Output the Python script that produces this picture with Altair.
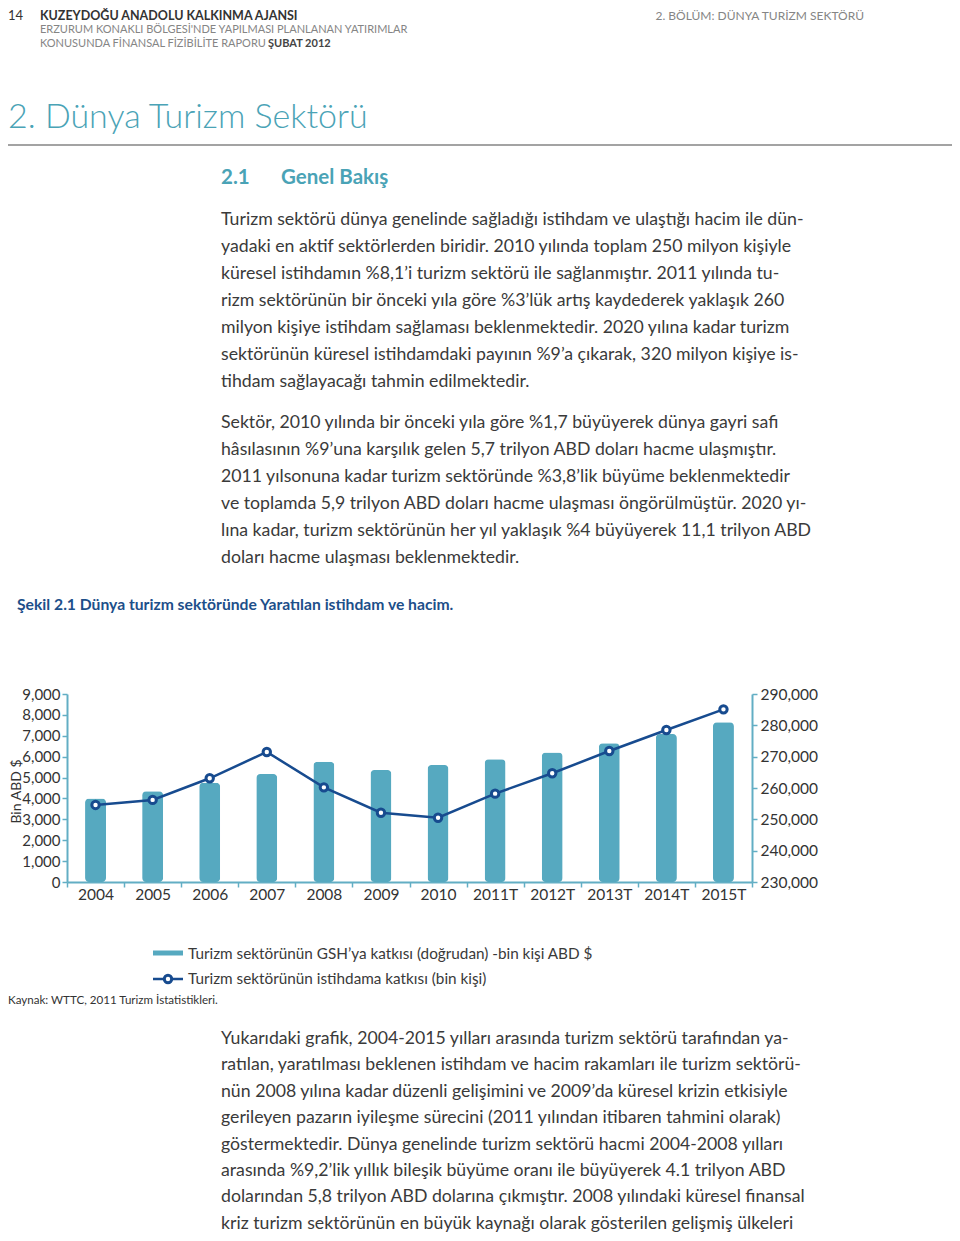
import altair as alt
import pandas as pd

# ---------------- data ----------------
years = ["2004", "2005", "2006", "2007", "2008", "2009", "2010",
         "2011T", "2012T", "2013T", "2014T", "2015T"]
gdp_values = [4000, 4350, 4750, 5170, 5760, 5360, 5600, 5880, 6200, 6640, 7080, 7650]
emp_values = [254600, 256200, 263100, 271500, 260200, 252100, 250500,
              258200, 264700, 271800, 278500, 285100]
left_ticks = [0, 1000, 2000, 3000, 4000, 5000, 6000, 7000, 8000, 9000]
right_ticks = [230000, 240000, 250000, 260000, 270000, 280000, 290000]

header_bold = "KUZEYDOĞU ANADOLU KALKINMA AJANSI"
header_line2 = "ERZURUM KONAKLI BÖLGESİ'NDE YAPILMASI PLANLANAN YATIRIMLAR"
header_line3 = "KONUSUNDA FİNANSAL FİZİBİLİTE RAPORU"
header_date = "ŞUBAT 2012"
header_right = "2. BÖLÜM: DÜNYA TURİZM SEKTÖRÜ"
page_no = "14"
chapter_title = "2. Dünya Turizm Sektörü"
section_no = "2.1"
section_title = "Genel Bakış"
para1 = [
    "Turizm sektörü dünya genelinde sağladığı istihdam ve ulaştığı hacim ile dün-",
    "yadaki en aktif sektörlerden biridir. 2010 yılında toplam 250 milyon kişiyle",
    "küresel istihdamın %8,1’i turizm sektörü ile sağlanmıştır. 2011 yılında tu-",
    "rizm sektörünün bir önceki yıla göre %3’lük artış kaydederek yaklaşık 260",
    "milyon kişiye istihdam sağlaması beklenmektedir. 2020 yılına kadar turizm",
    "sektörünün küresel istihdamdaki payının %9’a çıkarak, 320 milyon kişiye is-",
    "tihdam sağlayacağı tahmin edilmektedir.",
]
para2 = [
    "Sektör, 2010 yılında bir önceki yıla göre %1,7 büyüyerek dünya gayri safi",
    "hâsılasının %9’una karşılık gelen 5,7 trilyon ABD doları hacme ulaşmıştır.",
    "2011 yılsonuna kadar turizm sektöründe %3,8’lik büyüme beklenmektedir",
    "ve toplamda 5,9 trilyon ABD doları hacme ulaşması öngörülmüştür. 2020 yı-",
    "lına kadar, turizm sektörünün her yıl yaklaşık %4 büyüyerek 11,1 trilyon ABD",
    "doları hacme ulaşması beklenmektedir.",
]
figure_caption = "Şekil 2.1 Dünya turizm sektöründe Yaratılan istihdam ve hacim."
legend_bar = "Turizm sektörünün GSH’ya katkısı (doğrudan) -bin kişi ABD $"
legend_line = "Turizm sektörünün istihdama katkısı (bin kişi)"
source_note = "Kaynak: WTTC, 2011 Turizm İstatistikleri."
para3 = [
    "Yukarıdaki grafik, 2004-2015 yılları arasında turizm sektörü tarafından ya-",
    "ratılan, yaratılması beklenen istihdam ve hacim rakamları ile turizm sektörü-",
    "nün 2008 yılına kadar düzenli gelişimini ve 2009’da küresel krizin etkisiyle",
    "gerileyen pazarın iyileşme sürecini (2011 yılından itibaren tahmini olarak)",
    "göstermektedir. Dünya genelinde turizm sektörü hacmi 2004-2008 yılları",
    "arasında %9,2’lik yıllık bileşik büyüme oranı ile büyüyerek 4.1 trilyon ABD",
    "dolarından 5,8 trilyon ABD dolarına çıkmıştır. 2008 yılındaki küresel finansal",
    "kriz turizm sektörünün en büyük kaynağı olarak gösterilen gelişmiş ülkeleri",
]

# ---------------- styling ----------------
FONT = "Lato"
TEXT = "#3a3a3a"
GREY = "#858585"
TEAL = "#4aa3b6"
BAR = "#56a9c0"
AXC = "#62aec4"
BLUE = "#174b8f"
NAVY = "#1d4f8a"
BODY = 17.7

W, H = 936, 1217          # plot area; padding left/top 8 -> origin at page (16,16)


def X(v):
    return v - 16


def Y(v):
    return v - 16


one = alt.Data(values=[{"k": 1}])


def txt(s, x, y, size, color, weight="normal", align="left", lh=None):
    kw = dict(align=align, baseline="alphabetic", fontSize=size, color=color,
              fontWeight=weight, font=FONT)
    if isinstance(s, list):
        kw.update(lineBreak="\n", lineHeight=lh)
        s = "\n".join(s)
    return alt.Chart(one).mark_text(**kw).encode(
        x=alt.value(X(x)), y=alt.value(Y(y)), text=alt.value(s))


def rule(x1, x2, y, color, width):
    return alt.Chart(one).mark_rule(color=color, strokeWidth=width).encode(
        x=alt.value(X(x1)), x2=alt.value(X(x2)), y=alt.value(Y(y)))


df = pd.DataFrame({"year": years, "gdp": gdp_values, "emp": emp_values})

xscale = alt.Scale(domain=years, range=[X(67), X(752)], paddingInner=0, paddingOuter=0)
xaxis = alt.Axis(orient="bottom", offset=-(H - Y(882)), title=None, labelAngle=0,
                 labelFont=FONT, labelFontSize=15.5, labelColor="#333333",
                 labelPadding=0, tickBand="extent", tickSize=5, tickColor=AXC,
                 tickWidth=1.5, domainColor=AXC, domainWidth=2, grid=False)

bars = alt.Chart(df).mark_bar(size=21, color=BAR, cornerRadius=4).encode(
    x=alt.X("year:N", sort=years, scale=xscale, axis=xaxis),
    y=alt.Y("gdp:Q",
            scale=alt.Scale(domain=[0, 9000], range=[Y(882), Y(694)], nice=False),
            axis=alt.Axis(orient="left", offset=-X(67), values=left_ticks, format=",d",
                          title="Bin ABD $", titleFont=FONT, titleFontSize=14,
                          titleFontWeight="normal", titleColor="#333333",
                          titleAngle=270, titleX=16 - 67, titleY=Y(791),
                          titleAlign="center", titleBaseline="middle",
                          labelFont=FONT, labelFontSize=15, labelColor="#333333",
                          labelPadding=2, tickSize=5, tickColor=AXC, tickWidth=1.5,
                          domainColor=AXC, domainWidth=2, grid=False)),
)

line = alt.Chart(df).mark_line(
    color=BLUE, strokeWidth=2.5,
    point=alt.OverlayMarkDef(filled=True, fill="white", stroke=BLUE,
                             strokeWidth=3, size=55)).encode(
    x=alt.X("year:N", sort=years, scale=xscale, axis=xaxis),
    y=alt.Y("emp:Q",
            scale=alt.Scale(domain=[230000, 290000], range=[Y(882), Y(694)], nice=False,
                            zero=False),
            axis=alt.Axis(orient="right", offset=-(952 - 752), values=right_ticks,
                          format=",d", title=None, labelFont=FONT, labelFontSize=15.5,
                          labelColor="#333333", labelPadding=3, tickSize=5,
                          tickColor=AXC, tickWidth=1.5, domainColor=AXC,
                          domainWidth=2, grid=False)),
)

chart_part = alt.layer(bars, line).resolve_scale(y="independent")

decor = [
    txt(page_no, 8, 20, 13, "#333333"),
    txt(header_bold, 40, 20, 12.5, "#333333", weight="bold"),
    txt(header_line2, 40, 33, 11, GREY),
    txt(header_line3, 40, 46.5, 11, GREY),
    txt(header_date, 268, 46.5, 11, "#444444", weight="bold"),
    txt(header_right, 864, 20, 12, GREY, align="right"),
    txt(chapter_title, 8, 128, 34, TEAL, weight=300),
    rule(8, 952, 145, "#a3a3a3", 2),
    txt(section_no, 221, 184, 20.5, TEAL, weight="bold"),
    txt(section_title, 281, 184, 20.5, TEAL, weight="bold"),
    txt(para1, 221, 225, BODY, TEXT, lh=27),
    txt(para2, 221, 428, BODY, TEXT, lh=27),
    txt(figure_caption, 17, 610, 15.7, NAVY, weight="bold"),
    rule(153, 183, 953, BAR, 5),
    txt(legend_bar, 188, 959, 15.3, TEXT),
    rule(153, 183, 979, BLUE, 2.5),
    alt.Chart(one).mark_point(shape="circle", filled=True, fill="white", stroke=BLUE,
                              strokeWidth=3, size=55, opacity=1).encode(
        x=alt.value(X(168)), y=alt.value(Y(979))),
    txt(legend_line, 188, 984, 15.3, TEXT),
    txt(source_note, 8, 1004, 11.6, "#333333"),
    txt(para3, 221, 1044, BODY, TEXT, lh=26.4),
]

chart = alt.layer(chart_part, *decor).properties(
    width=W, height=H,
    autosize=alt.AutoSizeParams(type="none"),
    padding={"left": 8, "top": 8, "right": 0, "bottom": 0},
    background="white",
).configure_view(stroke=None)

chart.save("out.html", embed_options={"renderer": "svg", "actions": False})
